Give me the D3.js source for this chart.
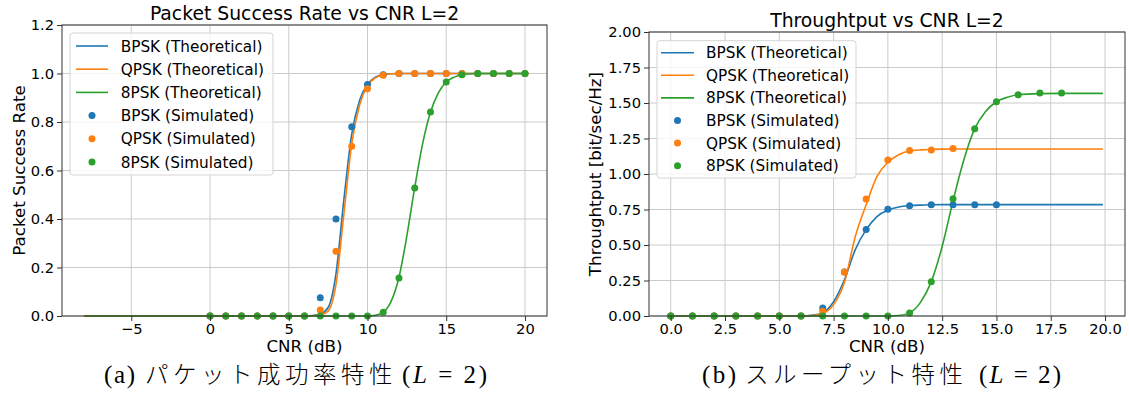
<!DOCTYPE html>
<html>
<head>
<meta charset="utf-8">
<script src="https://cdn.jsdelivr.net/npm/d3@7"></script>
<style>
    body { margin: 0; background: #fff; }
</style>
</head>
<body>
<svg id="fig" width="1129" height="398"></svg>
<script>
// ---- data ----
const colors = ["#1f77b4", "#ff7f0e", "#2ca02c"];
const SANS = "DejaVu Sans";

// (a) packet success rate
const cnrTheoryA = [-8, 6, 6.5, 7, 7.5, 8, 8.5, 9, 9.5, 10, 10.5, 11, 11.5, 12, 12.5, 13, 13.5, 14, 14.5, 15, 15.5, 16, 17, 20];
const bpskTheoryA = [0, 0, 0.002, 0.008, 0.035, 0.175, 0.48, 0.75, 0.89, 0.955, 0.985, 0.996, 0.999, 1, 1, 1, 1, 1, 1, 1, 1, 1, 1, 1];
const qpskTheoryA = [0, 0, 0.001, 0.004, 0.02, 0.13, 0.42, 0.71, 0.87, 0.95, 0.982, 0.995, 0.999, 1, 1, 1, 1, 1, 1, 1, 1, 1, 1, 1];
const epskTheoryA = [0, 0, 0, 0, 0, 0, 0, 0, 0, 0, 0.003, 0.015, 0.06, 0.16, 0.33, 0.53, 0.71, 0.84, 0.92, 0.965, 0.985, 0.995, 1, 1];

const bpskSimA = [0, 0, 0, 0, 0, 0, 0, 0.075, 0.40, 0.78, 0.955, 0.995, 1, 1, 1, 1, 1, 1, 1, 1, 1];
const qpskSimA = [0, 0, 0, 0, 0, 0, 0, 0.025, 0.267, 0.70, 0.937, 0.993, 1, 1, 1, 1, 1, 1, 1, 1, 1];
const epskSimA = [0, 0, 0, 0, 0, 0, 0, 0, 0, 0, 0, 0.015, 0.157, 0.528, 0.841, 0.965, 0.995, 1, 1, 1, 1];

// (b) throughput
const cnrTheoryB = [0, 6, 6.5, 7, 7.5, 8, 8.5, 9, 9.5, 10, 10.5, 11, 11.5, 12, 12.5, 13, 13.5, 14, 14.5, 15, 15.5, 16, 17, 18, 19.9];
const bpskTheoryB = [0, 0, 0.005, 0.022, 0.10, 0.255, 0.467, 0.608, 0.70, 0.746, 0.768, 0.777, 0.781, 0.783, 0.784, 0.784, 0.784, 0.784, 0.784, 0.784, 0.784, 0.784, 0.784, 0.784, 0.784];
const qpskTheoryB = [0, 0, 0.003, 0.018, 0.08, 0.237, 0.56, 0.784, 0.983, 1.082, 1.136, 1.162, 1.170, 1.173, 1.175, 1.176, 1.176, 1.176, 1.176, 1.176, 1.176, 1.176, 1.176, 1.176, 1.176];
const epskTheoryB = [0, 0, 0, 0, 0, 0, 0, 0, 0, 0, 0.003, 0.022, 0.096, 0.242, 0.49, 0.81, 1.10, 1.319, 1.44, 1.509, 1.54, 1.558, 1.566, 1.568, 1.568];

const bpskSimB = [0, 0, 0, 0, 0, 0, 0, 0.056, 0.31, 0.61, 0.751, 0.777, 0.784, 0.784, 0.784, 0.784];
const qpskSimB = [0, 0, 0, 0, 0, 0, 0, 0.033, 0.31, 0.824, 1.099, 1.166, 1.169, 1.18];
const epskSimB = [0, 0, 0, 0, 0, 0, 0, 0, 0, 0, 0, 0.021, 0.242, 0.826, 1.319, 1.509, 1.558, 1.570, 1.570];

const xTicksA = [-5, 0, 5, 10, 15, 20];
const yTicksA = [0, 0.2, 0.4, 0.6, 0.8, 1.0, 1.2];
const xTicksB = [0, 2.5, 5, 7.5, 10, 12.5, 15, 17.5, 20];
const yTicksB = [0, 0.25, 0.5, 0.75, 1.0, 1.25, 1.5, 1.75, 2.0];

const legendLabels = [
    "BPSK (Theoretical)", "QPSK (Theoretical)", "8PSK (Theoretical)",
    "BPSK (Simulated)", "QPSK (Simulated)", "8PSK (Simulated)"
];

const svg = d3.select("#fig");

function range(n) { return Array.from({length: n}, (_, i) => i); }
function zip(xs, ys) { return ys.map((y, i) => [xs[i], y]); }

function drawPanel(p) {
    const x = d3.scaleLinear().domain(p.xDomain).range([p.left, p.right]);
    const y = d3.scaleLinear().domain(p.yDomain).range([p.bottom, p.top]);
    const g = svg.append("g");

    // grid
    g.append("g").selectAll("line").data(p.xTicks).join("line")
        .attr("x1", d => x(d)).attr("x2", d => x(d))
        .attr("y1", p.top).attr("y2", p.bottom)
        .attr("stroke", "#cbcbcb").attr("stroke-width", 1);
    g.append("g").selectAll("line").data(p.yTicks).join("line")
        .attr("x1", p.left).attr("x2", p.right)
        .attr("y1", d => y(d)).attr("y2", d => y(d))
        .attr("stroke", "#cbcbcb").attr("stroke-width", 1);

    // theoretical curves
    const line = d3.line().x(d => x(d[0])).y(d => y(d[1])).curve(d3.curveMonotoneX);
    p.theory.forEach((vals, i) => {
        g.append("path")
            .datum(zip(p.theoryX, vals))
            .attr("fill", "none")
            .attr("stroke", colors[i])
            .attr("stroke-width", 1.6)
            .attr("d", line);
    });

    // simulated points (CNR = 0, 1, 2, ...)
    p.sim.forEach((vals, i) => {
        g.append("g").selectAll("circle")
            .data(zip(range(vals.length), vals))
            .join("circle")
            .attr("cx", d => x(d[0]))
            .attr("cy", d => y(d[1]))
            .attr("r", 3.5)
            .attr("fill", colors[i]);
    });

    // spines
    g.append("rect")
        .attr("x", p.left).attr("y", p.top)
        .attr("width", p.right - p.left).attr("height", p.bottom - p.top)
        .attr("fill", "none").attr("stroke", "#333").attr("stroke-width", 1);

    // axes
    const xAxis = g.append("g")
        .attr("transform", `translate(0,${p.bottom})`)
        .call(d3.axisBottom(x).tickValues(p.xTicks).tickFormat(p.xFmt).tickSize(5).tickPadding(3).tickSizeOuter(0));
    const yAxis = g.append("g")
        .attr("transform", `translate(${p.left},0)`)
        .call(d3.axisLeft(y).tickValues(p.yTicks).tickFormat(p.yFmt).tickSize(5).tickPadding(3).tickSizeOuter(0));
    for (const ax of [xAxis, yAxis]) {
        ax.attr("font-family", SANS).attr("font-size", 14.7);
        ax.select(".domain").remove();
        ax.selectAll("line").attr("stroke", "#333");
        ax.selectAll("text").attr("fill", "#000");
    }

    // title and labels
    g.append("text")
        .attr("x", (p.left + p.right) / 2).attr("y", p.titleY)
        .attr("text-anchor", "middle")
        .attr("font-family", SANS).attr("font-size", 18.8)
        .text(p.title);
    g.append("text")
        .attr("x", (p.left + p.right) / 2).attr("y", 352)
        .attr("text-anchor", "middle")
        .attr("font-family", SANS).attr("font-size", 16.7)
        .text("CNR (dB)");
    g.append("text")
        .attr("transform", `translate(${p.yLabelX},${(p.top + p.bottom) / 2}) rotate(-90)`)
        .attr("text-anchor", "middle")
        .attr("font-family", SANS).attr("font-size", 16.7)
        .text(p.yLabel);

    // legend
    const L = p.legend;
    g.append("rect")
        .attr("x", L.x).attr("y", L.y).attr("width", L.w).attr("height", L.h)
        .attr("rx", 3)
        .attr("fill", "#fff").attr("fill-opacity", 0.8)
        .attr("stroke", "#d5d5d5").attr("stroke-width", 1);
    legendLabels.forEach((lab, i) => {
        const cy = L.y0 + i * L.step;
        const c = colors[i % 3];
        if (i < 3) {
            g.append("line")
                .attr("x1", L.hx0).attr("x2", L.hx1).attr("y1", cy).attr("y2", cy)
                .attr("stroke", c).attr("stroke-width", 1.6);
        } else {
            g.append("circle")
                .attr("cx", (L.hx0 + L.hx1) / 2).attr("cy", cy).attr("r", 3.5)
                .attr("fill", c);
        }
        g.append("text")
            .attr("x", L.tx).attr("y", cy + 5.5)
            .attr("font-family", SANS).attr("font-size", 15.3)
            .text(lab);
    });
}

const minus = d => (d < 0 ? "\u2212" + Math.abs(d) : String(d));

drawPanel({
    left: 62, right: 547, top: 25, bottom: 316,
    xDomain: [-9.4, 21.4], yDomain: [0, 1.2],
    xTicks: xTicksA, yTicks: yTicksA,
    xFmt: minus, yFmt: d3.format(".1f"),
    title: "Packet Success Rate vs CNR L=2", titleY: 20,
    yLabel: "Packet Success Rate", yLabelX: 25,
    theoryX: cnrTheoryA,
    theory: [bpskTheoryA, qpskTheoryA, epskTheoryA],
    sim: [bpskSimA, qpskSimA, epskSimA],
    legend: {x: 70, y: 33, w: 203, h: 142, y0: 46, step: 23.2, hx0: 76, hx1: 108, tx: 120.7}
});

drawPanel({
    left: 649, right: 1125, top: 32, bottom: 316,
    xDomain: [-1, 20.92], yDomain: [0, 2],
    xTicks: xTicksB, yTicks: yTicksB,
    xFmt: d3.format(".1f"), yFmt: d3.format(".2f"),
    title: "Throughtput vs CNR L=2", titleY: 27,
    yLabel: "Throughtput [bit/sec/Hz]", yLabelX: 601,
    theoryX: cnrTheoryB,
    theory: [bpskTheoryB, qpskTheoryB, epskTheoryB],
    sim: [bpskSimB, qpskSimB, epskSimB],
    legend: {x: 657, y: 40.7, w: 199, h: 137.3, y0: 52.7, step: 22.6, hx0: 661, hx1: 694, tx: 706}
});

// captions: tag, Japanese title, math part
function caption(c) {
    const base = 383;
    svg.append("text")
        .attr("x", c.tagX).attr("y", base)
        .attr("font-family", "Liberation Serif").attr("font-size", 25)
        .attr("textLength", c.tagW).attr("lengthAdjust", "spacing")
        .text(c.tag);
    svg.append("text")
        .attr("x", c.jpX).attr("y", base)
        .attr("font-family", "Noto Sans CJK JP").attr("font-size", 23.5)
        .attr("font-weight", 300)
        .attr("letter-spacing", 4.5)
        .text(c.jp);
    const m = svg.append("text")
        .attr("x", c.mathX).attr("y", base)
        .attr("font-family", "Liberation Serif").attr("font-size", 25)
        .attr("textLength", c.mathW).attr("lengthAdjust", "spacing");
    m.append("tspan").text("(");
    m.append("tspan").attr("font-style", "italic").text("L");
    m.append("tspan").text(" = 2)");
}
caption({tag: "(a)", tagX: 104, tagW: 31, jp: "パケット成功率特性", jpX: 145, mathX: 402, mathW: 85});
caption({tag: "(b)", tagX: 702, tagW: 34, jp: "スループット特性", jpX: 745, mathX: 979, mathW: 82});
</script>
</body>
</html>
